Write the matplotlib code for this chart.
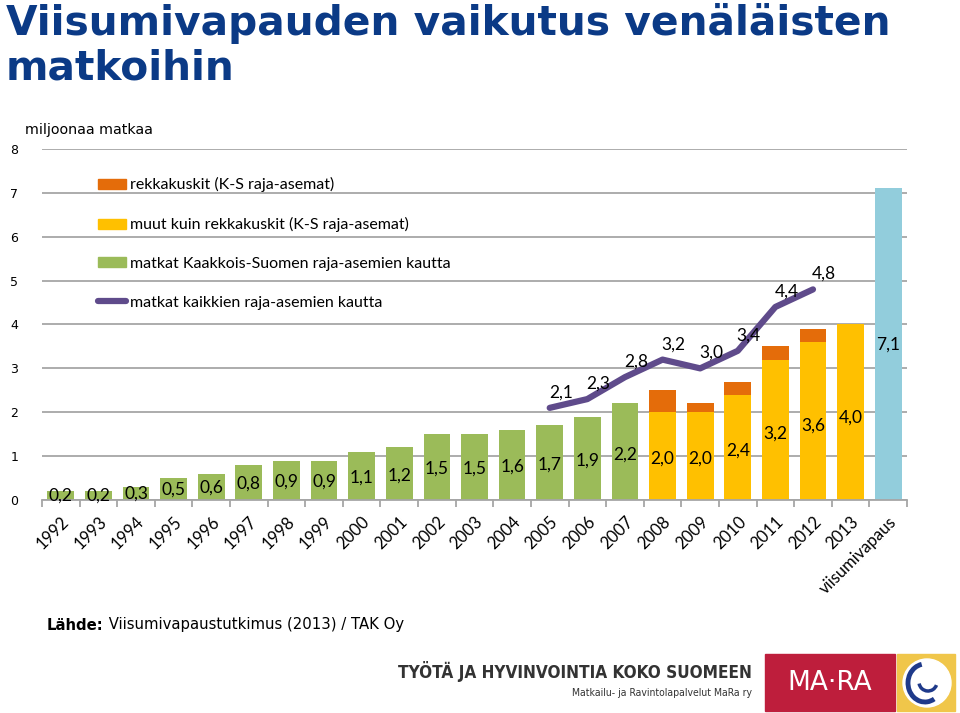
import matplotlib
matplotlib.use("Agg")
import matplotlib.pyplot as plt
from matplotlib.patches import Patch, Rectangle, Circle, Arc
from matplotlib.lines import Line2D
import numpy as np

categories = [str(y) for y in range(1992, 2014)] + ['viisumivapaus']

# matkat Kaakkois-Suomen raja-asemien kautta, 1992-2007
green_vals = [0.2, 0.2, 0.3, 0.5, 0.6, 0.8, 0.9, 0.9, 1.1, 1.2,
              1.5, 1.5, 1.6, 1.7, 1.9, 2.2]
# 2008-2013: muut kuin rekkakuskit / rekkakuskit
yellow_vals = [2.0, 2.0, 2.4, 3.2, 3.6, 4.0]
orange_vals = [0.5, 0.2, 0.3, 0.3, 0.3, 0.0]
visa_free = 7.1
# matkat kaikkien raja-asemien kautta, 2005-2012
line_vals = [2.1, 2.3, 2.8, 3.2, 3.0, 3.4, 4.4, 4.8]

GREEN = '#9BBB59'
YELLOW = '#FFC000'
ORANGE = '#E46C0A'
PURPLE = '#5F4B8B'
BLUE = '#92CDDC'
TITLE = '#0B3A86'
CAL = 'Lato'


def fmt(v):
    return f"{v:.1f}".replace('.', ',')


fig = plt.figure(figsize=(9.6, 7.13), dpi=100)
ax = fig.add_axes([42/960, 1 - 500/713, 865/960, 351/713])

x = np.arange(len(categories))
xg = x[:len(green_vals)]
xy = x[len(green_vals):len(green_vals) + len(yellow_vals)]
xv = x[-1]
xl = x[13:13 + len(line_vals)]

w = 0.71
ax.bar(xg, green_vals, width=w, color=GREEN, zorder=2)
ax.bar(xy, yellow_vals, width=w, color=YELLOW, zorder=2)
ax.bar(xy, orange_vals, bottom=yellow_vals, width=w, color=ORANGE, zorder=2)
ax.bar([xv], [visa_free], width=w, color=BLUE, zorder=2)
ax.plot(xl, line_vals, color=PURPLE, lw=4.5, solid_capstyle='round',
        solid_joinstyle='round', zorder=3)

# data labels
for xi, v in zip(xg, green_vals):
    ax.text(xi, v * 0.47, fmt(v), ha='center', va='center', fontsize=12.5,
            family=CAL, zorder=4)
for xi, v in zip(xy, yellow_vals):
    ax.text(xi, v * 0.47, fmt(v), ha='center', va='center', fontsize=12.5,
            family=CAL, zorder=4)
ax.text(xv, visa_free / 2, fmt(visa_free), ha='center', va='center',
        fontsize=12.5, family=CAL, zorder=4)
for xi, v in zip(xl, line_vals):
    ax.annotate(fmt(v), (xi, v), xytext=(8, 11), textcoords='offset points',
                ha='center', va='center', fontsize=12.5, family=CAL, zorder=4)

ax.set_xlim(-0.5, len(categories) - 0.5)
ax.set_ylim(0, 8)
ax.set_yticks(range(0, 9))
ax.yaxis.grid(True, color='#A6A6A6', lw=1.3, zorder=0)
ax.set_axisbelow(True)
for s in ['left', 'top', 'right']:
    ax.spines[s].set_visible(False)
ax.spines['bottom'].set_color('#A6A6A6')
ax.spines['bottom'].set_linewidth(1.3)
ax.tick_params(axis='y', length=0, pad=17, labelsize=9)
ax.set_xticks(x)
ax.set_xticklabels(categories, rotation=45, ha='right', va='top',
                   rotation_mode='anchor', fontsize=12, family=CAL)
ax.tick_params(axis='x', length=0, pad=10)
ax.set_xticks(np.arange(-0.5, len(categories)), minor=True)
ax.tick_params(axis='x', which='minor', length=5, color='#A6A6A6', width=1.3)

handles = [Patch(color=ORANGE), Patch(color=YELLOW), Patch(color=GREEN),
           Line2D([], [], color=PURPLE, lw=4.5, solid_capstyle='round')]
labels = ['rekkakuskit (K-S raja-asemat)',
          'muut kuin rekkakuskit (K-S raja-asemat)',
          'matkat Kaakkois-Suomen raja-asemien kautta',
          'matkat kaikkien raja-asemien kautta']
fig.legend(handles, labels, loc='upper left',
           bbox_to_anchor=(84/960, 1 - 163/713), frameon=False,
           prop={'family': CAL, 'size': 11.5}, labelspacing=1.55,
           handlelength=1.7, handleheight=0.6, handletextpad=0.3)

fig.text(6/960, 1 - 35/713, 'Viisumivapauden vaikutus venäläisten',
         fontsize=29.3, fontweight='bold', color=TITLE, va='baseline')
fig.text(6/960, 1 - 80/713, 'matkoihin',
         fontsize=29.3, fontweight='bold', color=TITLE, va='baseline')
fig.text(25/960, 1 - 130/713, 'miljoonaa matkaa', fontsize=10.3, va='center')

src = fig.text(47/960, 1 - 625/713, 'Lähde:', fontsize=10.7,
               fontweight='bold', va='center')
plt.annotate(' Viisumivapaustutkimus (2013) / TAK Oy', xy=(1, 0.5),
             xycoords=src, va='center', ha='left', fontsize=10.7,
             annotation_clip=False)

fig.text(752/960, 1 - 672/713, 'TYÖTÄ JA HYVINVOINTIA KOKO SUOMEEN',
         fontsize=12.3, fontweight='bold', fontstretch='condensed',
         color='#333333', ha='right', va='center')
fig.text(752/960, 1 - 693/713, 'Matkailu- ja Ravintolapalvelut MaRa ry',
         fontsize=7.5, fontstretch='condensed', color='#333333',
         ha='right', va='center')

fig.add_artist(Rectangle((765/960, 1 - 711/713), 130/960, 57/713,
                         transform=fig.transFigure, color='#BE1E3C'))
fig.text(830/960, 1 - 683/713, 'MA·RA', color='white', fontsize=19,
         ha='center', va='center', zorder=6)
fig.add_artist(Rectangle((897/960, 1 - 711/713), 58/960, 57/713,
                         transform=fig.transFigure, color='#F0C64A'))
lax = fig.add_axes([897/960, 1 - 711/713, 58/960, 57/713])
lax.set_zorder(5)
lax.set_xlim(0, 58)
lax.set_ylim(0, 57)
lax.set_aspect('equal')
lax.axis('off')
lax.add_patch(Circle((30, 28), 24, color='white'))
lax.add_patch(Arc((28, 28), 34, 38, theta1=100, theta2=300, lw=3.5,
                  color='#1F3A8A'))
lax.add_patch(Arc((31, 29), 18, 18, theta1=190, theta2=340, lw=2.5,
                  color='#1F3A8A'))

fig.savefig('out.png', dpi=100)
